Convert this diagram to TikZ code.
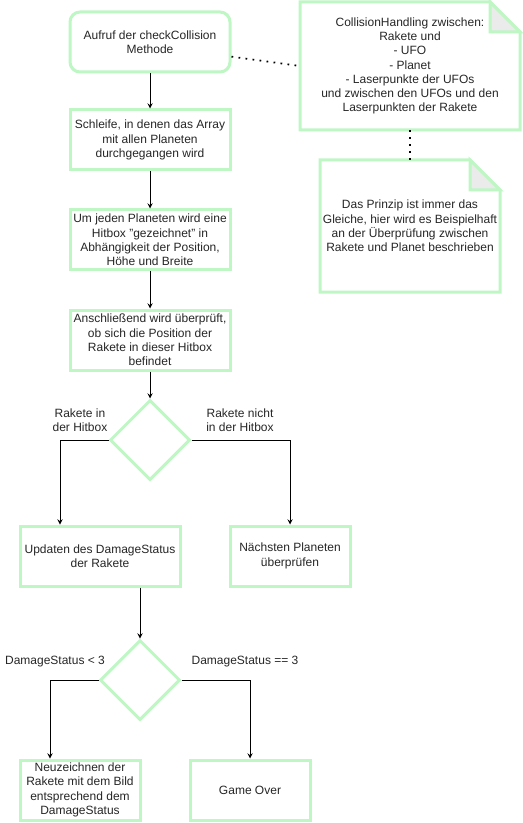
\documentclass[tikz,border=0pt]{standalone}
\usepackage{fontspec}
\setmainfont{Liberation Sans}
\usetikzlibrary{positioning,shapes.geometric,arrows.meta}
\definecolor{boxgreen}{RGB}{190,246,196}
\definecolor{foldgray}{RGB}{235,235,235}
\tikzset{
	->,
	>=stealth,
	every node/.style={font=\fontsize{9}{10.7}\selectfont, align=center, text=black!85},
	process/.style={draw=boxgreen, line width=2.25pt, fill=white, minimum width=120pt, minimum height=45pt, inner sep=1pt},
	smallprocess/.style={process, minimum width=90pt},
	startbox/.style={process, rounded corners=7.5pt},
	decision/.style={diamond, draw=boxgreen, line width=2.25pt, minimum width=60pt, minimum height=60pt, inner sep=0pt},
	notebox/.style={inner sep=0pt, outer sep=0pt},
	noteline/.style={-, draw=boxgreen, line width=2.25pt, line join=miter},
	dotline/.style={-, line width=1.3pt, dash pattern=on 1.3pt off 4pt},
	flow/.style={->, line width=0.75pt},
}
\begin{document}
\begin{tikzpicture}[x=0.75pt, y=-0.75pt]
	\useasboundingbox (0,0) rectangle (522,823);

	\node[startbox] (collcall) at (150,42) {Aufruf der checkCollision\\Methode};
	\node[process] (loop) at (150,140) {Schleife, in denen das Array\\mit allen Planeten\\durchgegangen wird};
	\node[process] (hitbox) at (150,240) {Um jeden Planeten wird eine\\Hitbox "gezeichnet" in\\Abhängigkeit der Position,\\Höhe und Breite};
	\node[process] (check) at (150,340) {Anschließend wird überprüft,\\ob sich die Position der\\Rakete in dieser Hitbox\\befindet};
	\node[decision] (hitcheck) at (150,440) {};
	\node[process] (updatestatus) at (100,556) {Updaten des DamageStatus\\der Rakete};
	\node[smallprocess] (nextplanet) at (290,556) {Nächsten Planeten\\überprüfen};
	\node[decision] (damagecheck) at (140,680) {};
	\node[smallprocess] (redraw) at (80,790) {Neuzeichnen der\\Rakete mit dem Bild\\entsprechend dem\\DamageStatus};
	\node[smallprocess] (gameover) at (250,790) {Game Over};

	\node (lblin) at (80,420) {Rakete in\\der Hitbox};
	\node (lblout) at (240,420) {Rakete nicht\\in der Hitbox};
	\node (lbllow) at (55,662) {DamageStatus < 3};
	\node (lblmax) at (245,662) {DamageStatus == 3};

	% Notizen
	\node[notebox, minimum width=165pt, minimum height=96pt] (collnote) at (410,66) {CollisionHandling zwischen:\\Rakete und\\- UFO\\- Planet\\- Laserpunkte der UFOs\\und zwischen den UFOs und den\\Laserpunkten der Rakete};
	\draw[noteline] (collnote.north west) -- ([xshift=-22.5pt]collnote.north east) -- ([yshift=-22.5pt]collnote.north east) -- (collnote.south east) -- (collnote.south west) -- cycle;
	\draw[noteline, fill=foldgray] ([xshift=-22.5pt]collnote.north east) -- ([xshift=-22.5pt,yshift=-22.5pt]collnote.north east) -- ([yshift=-22.5pt]collnote.north east) -- cycle;

	\node[notebox, minimum width=135pt, minimum height=99pt] (prinzipnote) at (410,226) {Das Prinzip ist immer das\\Gleiche, hier wird es Beispielhaft\\an der Überprüfung zwischen\\Rakete und Planet beschrieben};
	\draw[noteline] (prinzipnote.north west) -- ([xshift=-22.5pt]prinzipnote.north east) -- ([yshift=-22.5pt]prinzipnote.north east) -- (prinzipnote.south east) -- (prinzipnote.south west) -- cycle;
	\draw[noteline, fill=foldgray] ([xshift=-22.5pt]prinzipnote.north east) -- ([xshift=-22.5pt,yshift=-22.5pt]prinzipnote.north east) -- ([yshift=-22.5pt]prinzipnote.north east) -- cycle;

	\draw[dotline] ([yshift=-11pt]collcall.east) -- (collnote.west);
	\draw[dotline] (collnote.south) -- (prinzipnote.north);

	% Ablauf
	\draw[flow] (collcall) -- (loop);
	\draw[flow] (loop) -- (hitbox);
	\draw[flow] (hitbox) -- (check);
	\draw[flow] (check) -- (hitcheck);
	\draw[flow] (hitcheck.west) -| ([xshift=-30pt]updatestatus.north);
	\draw[flow] (hitcheck.east) -| (nextplanet.north);
	\draw[flow] ([xshift=30pt]updatestatus.south) -- (damagecheck.north);
	\draw[flow] (damagecheck.west) -| ([xshift=-22.5pt]redraw.north);
	\draw[flow] (damagecheck.east) -| (gameover.north);
\end{tikzpicture}
\end{document}
